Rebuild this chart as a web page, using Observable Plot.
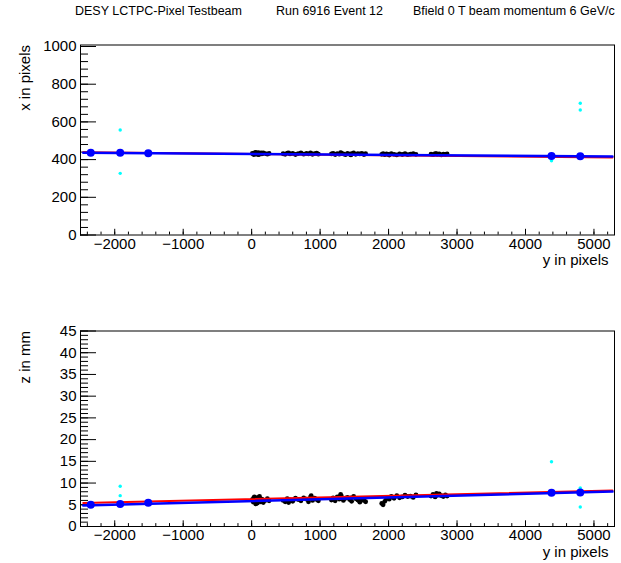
<!DOCTYPE html>
<html><head><meta charset="utf-8">
<script src="https://cdn.jsdelivr.net/npm/d3@7"></script>
<script src="https://cdn.jsdelivr.net/npm/@observablehq/plot@0.6"></script>
<style>
body{margin:0;background:#fff;}
#wrap{position:relative;width:621px;height:563px;font-family:'Liberation Sans',Arial,Helvetica,sans-serif;overflow:hidden;}
.t{position:absolute;top:4px;font-size:12.5px;white-space:nowrap;line-height:15px;color:#000;}
.p{position:absolute;left:0;}
</style></head><body>
<div id="wrap">
<div id="p1" class="p" style="top:0px"></div>
<div id="p2" class="p" style="top:281px"></div>
<div class="t" style="left:75px">DESY LCTPC-Pixel Testbeam</div>
<div class="t" style="left:276px">Run 6916 Event 12</div>
<div class="t" style="left:413px">Bfield 0 T beam momentum 6 GeV/c</div>
</div>
<script>
// ---- data ----
// hits: y (horizontal, pixels), x (pixels), z (mm)
const hitY = [10,25,40,55,70,85,100,115,130,150,170,200,230,255,30,60,95,140,
  460,490,520,560,600,640,680,720,760,800,830,860,890,920,950,975,870,540,
  1165,1190,1220,1250,1280,1310,1340,1370,1400,1430,1460,1490,1520,1550,1580,1610,1640,1665,1300,1450,
  1900,1920,1945,1970,2000,2040,2080,2120,2160,2200,2240,2280,2320,2360,2400,2010,
  2620,2650,2680,2710,2740,2770,2800,2830,2855,2700];
const hitX = [433,430,436,429,434,431,437,428,433,430,435,432,429,433,427,438,426,436,
  431,428,434,430,433,427,432,435,429,433,430,436,428,432,434,429,431,436,
  430,433,427,432,429,434,430,426,433,429,431,435,428,432,430,433,427,431,437,425,
  428,431,426,430,427,432,428,425,430,427,431,426,429,432,428,424,
  429,426,431,428,430,425,429,427,430,432];
const hitZ = [6.2,5.6,6.8,5.9,6.5,5.4,6.1,6.9,5.7,6.3,5.5,6.0,6.4,5.9,6.6,5.2,6.7,5.8,
  6.0,5.7,6.4,6.1,5.8,6.5,6.2,5.9,6.6,6.3,5.7,6.8,6.0,6.5,6.2,5.9,7.1,5.5,
  6.1,6.6,5.9,6.8,6.3,7.0,6.0,6.5,6.7,6.2,5.8,6.9,6.4,6.1,5.6,6.3,6.0,5.7,7.4,6.6,
  5.3,5.0,5.8,6.4,6.7,6.9,6.5,7.1,6.6,6.8,7.2,6.9,7.0,6.7,7.3,6.3,
  7.0,7.4,6.8,7.2,7.5,7.1,6.9,7.3,7.0,7.6];
// track points (blue)
const trackY = [-2350,-1920,-1510,4380,4800];
const trackX = [436,436,434,419,418];
const trackZ = [4.98,5.2,5.44,7.74,7.8];
// rejected points (cyan)
const outXY_y = [-1920,-1920,4380,4800,4800];
const outXY_x = [557,327,394,699,663];
const outZ_y = [-1920,-1920,4380,4800,4800,4800];
const outZ_z = [9.25,7.1,14.9,8.9,8.5,4.5];
// fit lines
const fitY = [-2460,5270];
const redX = [439,411];
const blueX = [436,416];
const redZ = [5.42,8.26];
const blueZ = [4.82,8.03];
// axes
const xDomain = [-2500,5300];
const xMajor = [-2000,-1000,0,1000,2000,3000,4000,5000];
const xMinor = d3.range(-2400,5300,200);
const topDomain = [0,1008];
const topMajor = [0,200,400,600,800,1000];
const topMinor = d3.range(0,1001,40);
const botDomain = [0,45];
const botMajor = [0,5,10,15,20,25,30,35,40,45];
const botMinor = d3.range(0,46,1);

const hits = hitY.map((y,i)=>({y, x: hitX[i], z: hitZ[i]}));
const track = trackY.map((y,i)=>({y, x: trackX[i], z: trackZ[i]}));
const outTop = outXY_y.map((y,i)=>({y, v: outXY_x[i]}));
const outBot = outZ_y.map((y,i)=>({y, v: outZ_z[i]}));
const fit = fitY.map((y,i)=>({y, rx: redX[i], bx: blueX[i], rz: redZ[i], bz: blueZ[i]}));

const W = 621, ML = 80, MR = 7, FW = W - ML - MR;
const FONT = "'Liberation Sans', Arial, Helvetica, sans-serif";
const fmt = d3.format("d");

function panel({height, mt, mb, yDomain, yMajor, yMinor, key, outs, red, blue, title}) {
  const FH = height - mt - mb;
  return Plot.plot({
    width: W, height, marginLeft: ML, marginRight: MR, marginTop: mt, marginBottom: mb,
    x: {domain: xDomain, axis: null},
    y: {domain: yDomain, axis: null},
    style: {fontFamily: FONT, fontSize: "15px", background: "white", color: "black", overflow: "visible"},
    marks: [
      Plot.ruleY(yMinor, {insetRight: FW - 8, stroke: "black"}),
      Plot.ruleY(yMajor, {insetRight: FW - 16, stroke: "black"}),
      Plot.ruleX(xMinor, {insetTop: FH - 2.9, stroke: "black"}),
      Plot.ruleX(xMajor, {insetTop: FH - 5.7, stroke: "black"}),
      Plot.axisY({ticks: yMajor, anchor: "left", tickSize: 0, tickPadding: 4, label: null, fontSize: 15, tickFormat: fmt}),
      Plot.axisX({ticks: xMajor, anchor: "bottom", tickSize: 0, tickPadding: 3, label: null, fontSize: 15, tickFormat: fmt}),
      Plot.dot(hits, {x: "y", y: key, r: 2.4, fill: "black"}),
      Plot.dot(outs, {x: "y", y: "v", r: 1.7, fill: "#00ffff"}),
      Plot.line(fit, {x: "y", y: red, stroke: "#ff0000", strokeWidth: 2}),
      Plot.line(fit, {x: "y", y: blue, stroke: "#0000ff", strokeWidth: 2.5}),
      Plot.dot(track, {x: "y", y: key, r: 4, fill: "#0000ff"}),
      Plot.frame({stroke: "black"}),
      Plot.text([title], {frameAnchor: "top-left", dx: -61, rotate: -90, textAnchor: "end", fontSize: 15}),
      Plot.text(["y in pixels"], {frameAnchor: "bottom-right", dx: -6, dy: 30, textAnchor: "end", fontSize: 15})
    ]
  });
}

document.getElementById("p1").append(panel({
  height: 281, mt: 44.5, mb: 46.5, yDomain: topDomain, yMajor: topMajor, yMinor: topMinor,
  key: "x", outs: outTop, red: "rx", blue: "bx", title: "x in pixels"
}));
document.getElementById("p2").append(panel({
  height: 282, mt: 49.5, mb: 37, yDomain: botDomain, yMajor: botMajor, yMinor: botMinor,
  key: "z", outs: outBot, red: "rz", blue: "bz", title: "z in mm"
}));
</script>
</body></html>
